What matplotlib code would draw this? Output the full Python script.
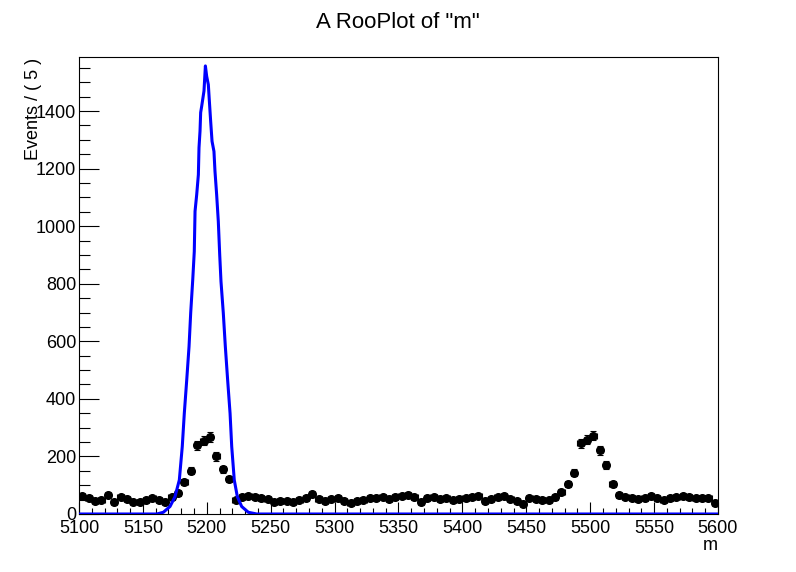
import matplotlib.pyplot as plt
import numpy as np

plt.rcParams['font.family'] = ['Liberation Sans', 'DejaVu Sans']

# binned data, 100 bins of width 5 from 5100 to 5600
bin_width = 5
m_lo, m_hi = 5100, 5600
counts = [
    63, 56, 46, 50, 66, 43, 60, 52, 41, 41, 50, 56, 50,
    40, 58, 72, 111, 151, 239, 254, 268, 200, 156, 121, 49,
    60, 61, 60, 54, 51, 41, 45, 46, 43, 49, 54, 68, 51, 46, 51,
    54, 46, 39, 46, 49, 54, 56, 60, 51, 58, 63, 66, 58, 43, 54, 58, 51, 54, 49, 51,
    54, 60, 63, 46, 51, 58, 63, 51, 46, 34,
    55, 53, 49, 47, 58, 76, 104, 143, 246, 258, 272, 221, 170, 103, 65,
    60, 56, 51, 54, 63, 54, 49, 54, 58, 63, 58, 54, 54, 54, 37,
]

# pdf curve
curve_m = [5100, 5160.8, 5166, 5171.2, 5175.1, 5178.5, 5180.8, 5182.4, 5184.3,
           5186.1, 5187.4, 5189.0, 5190.2, 5190.8, 5192.1, 5193.4, 5193.9, 5194.7,
           5195.2, 5196.0, 5197.8, 5198.9, 5199.9, 5201.2, 5202.0, 5203.0, 5204.1,
           5205.6, 5206.4, 5207.7, 5209.0, 5210.1, 5211.1, 5212.9, 5214.5, 5216.3,
           5218.2, 5219.5, 5221.5, 5223.9, 5227.3, 5232.5, 5239.1, 5600]
curve_y = [0, 0, 6, 26, 60, 118, 234, 350, 466, 582, 699, 814, 912, 1052, 1110,
           1179, 1273, 1331, 1395, 1417, 1470, 1557, 1521, 1492, 1435, 1366, 1295,
           1260, 1191, 1110, 1017, 901, 808, 699, 582, 466, 350, 234, 118, 60, 26,
           6, 0, 0]

centers = m_lo + bin_width * (np.arange(len(counts)) + 0.5)
counts = np.array(counts)
errs = np.sqrt(counts)

fig = plt.figure(figsize=(7.96, 5.72), dpi=100)
ax = fig.add_axes([79 / 796, 58 / 572, 639 / 796, 457 / 572])

ax.errorbar(centers, counts, yerr=errs, xerr=bin_width / 2, fmt='o', color='black',
            ms=5.5, elinewidth=0.8, capsize=2.5, capthick=0.8, zorder=3)
ax.plot(curve_m, curve_y, color='#0000ff', lw=2.2, zorder=4)

ax.set_xlim(m_lo, m_hi)
ax.set_ylim(0, 1588)
ax.set_xticks(np.arange(5100, 5601, 50))
ax.set_xticks(np.arange(5100, 5601, 10), minor=True)
ax.set_yticks(np.arange(0, 1401, 200))
ax.set_yticks(np.arange(0, 1588, 50), minor=True)

ax.tick_params(axis='both', which='both', direction='in', width=0.8, labelsize=13,
               top=False, right=False)
ax.tick_params(axis='x', which='major', length=8.6, pad=4)
ax.tick_params(axis='x', which='minor', length=4.3)
ax.tick_params(axis='y', which='major', length=14.4, pad=2)
ax.tick_params(axis='y', which='minor', length=7.9)
for s in ax.spines.values():
    s.set_linewidth(0.8)

fig.text(0.5, 1 - 22 / 572, 'A RooPlot of "m"', ha='center', va='center', fontsize=16)
fig.text(33 / 796, 1 - 58 / 572, 'Events / ( 5 )', rotation=90, ha='center', va='top',
         fontsize=13)
fig.text(718 / 796, 1 - 546 / 572, 'm', ha='right', va='center', fontsize=13)

plt.savefig('out.png', dpi=100)
